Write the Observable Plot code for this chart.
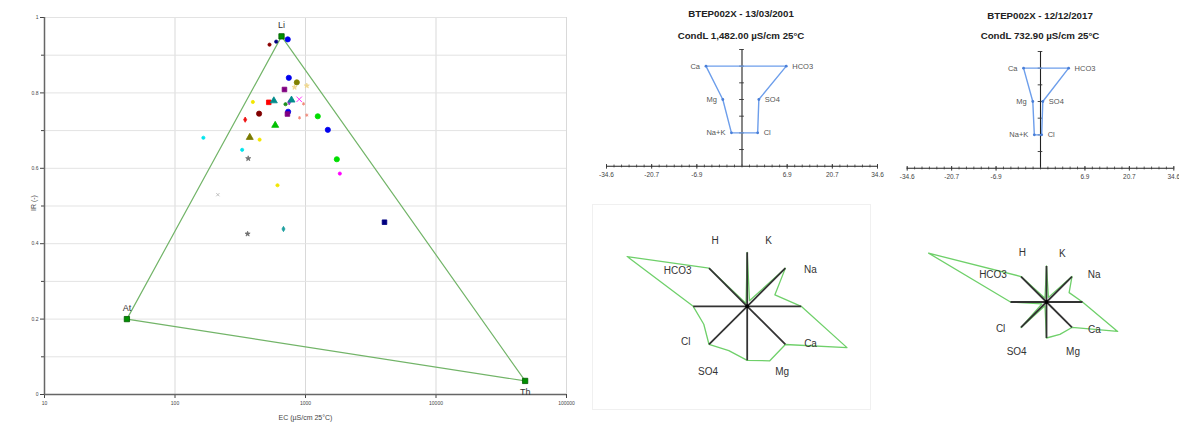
<!DOCTYPE html>
<html><head><meta charset="utf-8">
<script src="https://cdn.jsdelivr.net/npm/d3@7"></script>
<script src="https://cdn.jsdelivr.net/npm/@observablehq/plot@0.6"></script>
<style>
html,body{margin:0;padding:0;background:#fff;}
#root{position:relative;width:1179px;height:424px;overflow:hidden;background:#fff;font-family:"Liberation Sans",Arial,sans-serif;}
.title{position:absolute;font-weight:bold;font-size:9.7px;line-height:12px;color:#222;text-align:center;white-space:nowrap;width:300px;}
.faint{position:absolute;border:1px solid #f0f0f0;}
</style></head><body><div id="root"></div>
<script>
// ---------- Main chart: EC vs IR ----------
const sampleEC = [530, 596, 731, 745, 858, 824, 1023, 690, 395, 523, 572, 703, 781, 750, 895, 966, 736, 727, 441, 345, 900, 1023, 1242, 586, 1483, 165, 374, 445, 327, 364, 1738, 1833, 610, 213, 4030, 360, 678];
const sampleIR = [0.928, 0.936, 0.942, 0.840, 0.828, 0.815, 0.819, 0.809, 0.776, 0.775, 0.779, 0.770, 0.781, 0.775, 0.783, 0.771, 0.750, 0.744, 0.745, 0.729, 0.734, 0.741, 0.738, 0.714, 0.702, 0.681, 0.682, 0.676, 0.649, 0.626, 0.624, 0.586, 0.555, 0.530, 0.457, 0.426, 0.439];
const sampleGroup = ["darkredSm","navySm","blue","blue","olive","wheatStar","wheatStar","purpleSq","yellowSm","redSq","tealTri","greenSm","tealTri","orchidSm","magentaX","salmonPlus","blue","purpleSq","darkred","redDia","salmonPlus","salmonPlus","lime","greenTri","blue","cyanSm","oliveTri","yellowSm","cyanSm","grayStar","lime","magentaSm","yellowSm","grayX","navySq","grayStar","tealDia"];
const endMembers = ["Li", "At", "Th"];
const endEC = [655, 42.8, 48200];
const endIR = [0.95, 0.2, 0.036];
const xTicks = [10, 100, 1000, 10000, 100000];
const xTickLabels = ["10", "100", "1000", "10000", "100000"];
const yTicksMajor = [0, 0.2, 0.4, 0.6, 0.8, 1];
const yTicksMinor = [0.1, 0.3, 0.5, 0.7, 0.9];
const xLabel = "EC (µS/cm 25°C)";
const yLabel = "IR (-)";

// marker styles (kept apart from the data)
const markerStyle = {
  darkredSm: {fill:"#8b0000", symbol:"circle", big:false},
  navySm: {fill:"#000080", symbol:"circle", big:false},
  blue: {fill:"#0000ee", symbol:"circle", big:true},
  olive: {fill:"#808000", symbol:"circle", big:true},
  wheatStar: {fill:"#f0d890", symbol:"star", big:false},
  purpleSq: {fill:"#800080", symbol:"square", big:true},
  yellowSm: {fill:"#f2e600", symbol:"circle", big:false},
  redSq: {fill:"#ff0000", symbol:"square", big:true},
  tealTri: {fill:"#008b8b", symbol:"triangle", big:true},
  greenSm: {fill:"#1e8f1e", symbol:"circle", big:false},
  orchidSm: {fill:"#9932cc", symbol:"diamond", big:false},
  magentaX: {fill:"#ff00ff", symbol:"times", big:true},
  salmonPlus: {fill:"#f08070", symbol:"asterisk", big:false},
  darkred: {fill:"#800000", symbol:"circle", big:true},
  redDia: {fill:"#ee1010", symbol:"diamond", big:false},
  lime: {fill:"#00dd00", symbol:"circle", big:true},
  greenTri: {fill:"#00c000", symbol:"triangle", big:true},
  cyanSm: {fill:"#00e5ee", symbol:"circle", big:false},
  oliveTri: {fill:"#7a7a00", symbol:"triangle", big:true},
  grayStar: {fill:"#707070", symbol:"star", big:false},
  magentaSm: {fill:"#ff00ff", symbol:"circle", big:false},
  grayX: {fill:"#b0b0b0", symbol:"times", big:false},
  navySq: {fill:"#000080", symbol:"square", big:true},
  tealDia: {fill:"#20a0a0", symbol:"diamond", big:false}
};

// ---------- Stiff diagrams ----------
const stiffCations = ["Ca", "Mg", "Na+K"];
const stiffAnions = ["HCO3", "SO4", "Cl"];
const stiffRows = [6, 4, 2];
const stiff2001Cat = [9.2, 4.9, 2.7];
const stiff2001An = [11.3, 4.3, 4.0];
const stiff2017Cat = [4.4, 2.0, 1.6];
const stiff2017An = [7.3, 0.6, 0.3];
const stiffTickLabels = ["-34.6", "-20.7", "-6.9", "6.9", "20.7", "34.6"];
const stiffMax = 34.6;
const stiffTitles2001 = ["BTEP002X - 13/03/2001", "CondL 1,482.00 µS/cm 25°C"];
const stiffTitles2017 = ["BTEP002X - 12/12/2017", "CondL 732.90 µS/cm 25°C"];

// ---------- Radial diagrams ----------
const radialIons = ["K", "Na", "Ca", "Mg", "SO4", "Cl", "HCO3", "H"];
const radial2001 = [6, 30, 108, 59, 48, 47, 130, 3];
const radial2017 = [5, 24.5, 77, 35, 4, 5, 127.6, 4];
const radialSpoke2001 = 54;
const radialSpoke2017 = 36;
// label placement (style): angle in degrees, extra radius beyond spoke
const radialLabelAngle = [18, 60, 120.5, 152, 211, 240, 297, 334];
const radialLabelPad = [15, 19, 19.5, 20.5, 22, 17, 24, 19];

const root = document.getElementById("root");
function place(node, left, top) {
  node.style.position = "absolute";
  node.style.left = left + "px";
  node.style.top = top + "px";
  root.appendChild(node);
}
function addTitle(text, cx, top) {
  const d = document.createElement("div");
  d.className = "title";
  d.textContent = text;
  d.style.left = (cx - 150) + "px";
  d.style.top = top + "px";
  root.appendChild(d);
}
function faint(l, t, w, h) {
  const d = document.createElement("div");
  d.className = "faint";
  d.style.left = l + "px"; d.style.top = t + "px";
  d.style.width = w + "px"; d.style.height = h + "px";
  root.appendChild(d);
}

faint(592, 204, 277, 204);

// ---- main chart ----
const samples = sampleEC.map((ec, i) => ({ec, ir: sampleIR[i], g: sampleGroup[i]}));
const ends = endMembers.map((name, i) => ({name, ec: endEC[i], ir: endIR[i]}));
const tri = [ends[0], ends[1], ends[2], ends[0]];
const xTickData = xTicks.map((v, i) => ({v, label: xTickLabels[i]}));
const dotOpts = (r) => ({
  x: "ec", y: "ir",
  fill: d => markerStyle[d.g].fill,
  stroke: d => markerStyle[d.g].fill,
  symbol: d => markerStyle[d.g].symbol,
  r, strokeWidth: 0.8
});
const mainPlot = Plot.plot({
  width: 590, height: 424,
  marginLeft: 44, marginRight: 24, marginTop: 17, marginBottom: 30,
  x: {type: "log", domain: [10, 100000]},
  y: {domain: [0, 1]},
  style: {background: "transparent", fontFamily: "Liberation Sans, Arial, sans-serif", color: "#444"},
  marks: [
    Plot.gridX(xTicks, {stroke: "#d9d9d9", strokeOpacity: 1}),
    Plot.gridY([...yTicksMajor, ...yTicksMinor], {stroke: "#e3e3e3", strokeOpacity: 1}),
    Plot.axisX(xTicks, {tickFormat: () => "", tickSize: 4, label: null}),
    Plot.axisY(yTicksMajor, {tickFormat: d => String(d), tickSize: 4, tickPadding: 2, fontSize: 5, label: null}),
    Plot.axisY(yTicksMinor, {tickFormat: () => "", tickSize: 3, label: null}),
    Plot.ruleX([10], {stroke: "#666", strokeWidth: 1.5}),
    Plot.ruleY([0], {stroke: "#666", strokeWidth: 1.5}),
    Plot.text(xTickData, {x: "v", y: () => 0, dy: 9, text: "label", fontSize: 5, fill: "#444"}),
    Plot.text([xLabel], {frameAnchor: "bottom", dy: 25, text: d => d, fontSize: 7, fill: "#444"}),
    Plot.text([yLabel], {frameAnchor: "left", dx: -11, dy: 5, rotate: -90, text: d => d, fontSize: 7, fill: "#444"}),
    Plot.line(tri, {x: "ec", y: "ir", stroke: "#72b468", strokeWidth: 1.2}),
    Plot.dot(samples.filter(d => !markerStyle[d.g].big), dotOpts(1.6)),
    Plot.dot(samples.filter(d => markerStyle[d.g].big), dotOpts(2.6)),
    Plot.dot(ends, {x: "ec", y: "ir", symbol: "square", r: 3, fill: "#009000", stroke: "#005a00", strokeWidth: 0.8}),
    Plot.text(ends.filter(d => d.name !== "Th"), {x: "ec", y: "ir", text: "name", dy: -11, fontSize: 9, fill: "#333"}),
    Plot.text(ends.filter(d => d.name === "Th"), {x: "ec", y: "ir", text: "name", dy: 11, fontSize: 9, fill: "#333"})
  ]
});
place(mainPlot, 0, 0);

// ---- stiff diagrams ----
function stiffPlot(cat, an, width, mLeft, mRight) {
  const pts = [
    {x: -cat[0], y: stiffRows[0]}, {x: an[0], y: stiffRows[0]},
    {x: an[1], y: stiffRows[1]}, {x: an[2], y: stiffRows[2]},
    {x: -cat[2], y: stiffRows[2]}, {x: -cat[1], y: stiffRows[1]},
    {x: -cat[0], y: stiffRows[0]}
  ];
  const tickPos = [-3, -2, -1, 1, 2, 3].map(k => k * stiffMax / 3);
  const minor = d3.range(-18, 19).map(k => k * stiffMax / 18);
  const catLab = stiffCations.map((name, i) => ({name, x: -cat[i], y: stiffRows[i]}));
  const anLab = stiffAnions.map((name, i) => ({name, x: an[i], y: stiffRows[i]}));
  return Plot.plot({
    width, height: 150,
    marginLeft: mLeft, marginRight: mRight, marginTop: 9, marginBottom: 24.3,
    x: {domain: [-stiffMax, stiffMax], axis: null},
    y: {domain: [0, 7], axis: null},
    style: {background: "transparent", fontFamily: "Liberation Sans, Arial, sans-serif"},
    marks: [
      Plot.ruleY([0], {x1: -stiffMax, x2: stiffMax, stroke: "#222", strokeWidth: 1.1}),
      Plot.ruleX([0], {y1: 0, y2: 7, stroke: "#222", strokeWidth: 1.1}),
      Plot.ruleX(minor, {y1: -0.1, y2: 0.07, stroke: "#333", strokeWidth: 0.8}),
      Plot.ruleX(tickPos, {y1: -0.18, y2: 0.1, stroke: "#333", strokeWidth: 0.9}),
      Plot.ruleY(d3.range(1, 8), {x1: -0.6, x2: 0.6, stroke: "#333", strokeWidth: 0.9}),
      Plot.text(tickPos, {x: d => d, y: 0, dy: 9, text: (d, i) => stiffTickLabels[i], fontSize: 6.5, fill: "#444"}),
      Plot.line(pts, {x: "x", y: "y", stroke: "#6d9eeb", strokeWidth: 1.4}),
      Plot.dot(pts.slice(0, 6), {x: "x", y: "y", r: 1.4, fill: "#4a7fd8"}),
      Plot.text(catLab, {x: "x", y: "y", text: "name", textAnchor: "end", dx: -6, fontSize: 7.5, fill: "#555"}),
      Plot.text(anLab, {x: "x", y: "y", text: "name", textAnchor: "start", dx: 6, fontSize: 7.5, fill: "#555"})
    ]
  });
}
place(stiffPlot(stiff2001Cat, stiff2001An, 300, 16, 13), 590, 40);
place(stiffPlot(stiff2017Cat, stiff2017An, 289, 16.7, 5.7), 890, 42);
addTitle(stiffTitles2001[0], 741, 8);
addTitle(stiffTitles2001[1], 741, 30);
addTitle(stiffTitles2017[0], 1040, 10);
addTitle(stiffTitles2017[1], 1040, 30);

// ---- radial diagrams ----
function radialPlot(values, spoke, w, h, cx, cy) {
  const rad = a => a * Math.PI / 180;
  const pts = [];
  radialIons.forEach((ion, k) => {
    pts.push({r: spoke, a: 45 * k});
    pts.push({r: values[k], a: 45 * k + 22.5});
  });
  pts.push(pts[0]);
  const spokes = d3.range(8).map(k => ({a: 45 * k}));
  const labels = radialIons.map((name, k) => ({name, a: radialLabelAngle[k], r: spoke + radialLabelPad[k]}));
  return Plot.plot({
    width: w, height: h, margin: 0,
    x: {domain: [-cx, w - cx], axis: null},
    y: {domain: [cy - h, cy], axis: null},
    style: {background: "transparent", fontFamily: "Liberation Sans, Arial, sans-serif"},
    marks: [
      Plot.line(pts, {x: d => d.r * Math.sin(rad(d.a)), y: d => d.r * Math.cos(rad(d.a)), stroke: "#6fd06a", strokeWidth: 1.3}),
      Plot.link(spokes, {x1: 0, y1: 0, x2: d => spoke * Math.sin(rad(d.a)), y2: d => spoke * Math.cos(rad(d.a)), stroke: "#333", strokeWidth: 1.8}),
      Plot.dot([0], {x: 0, y: 0, r: 2, fill: "#000"}),
      Plot.text(labels, {x: d => d.r * Math.sin(rad(d.a)), y: d => d.r * Math.cos(rad(d.a)), text: "name", fontSize: 10, fill: "#333"})
    ]
  });
}
place(radialPlot(radial2001, radialSpoke2001, 300, 224, 156.7, 105.8), 590, 200);
place(radialPlot(radial2017, radialSpoke2017, 299, 224, 166, 101.5), 880, 200);
</script></body></html>
